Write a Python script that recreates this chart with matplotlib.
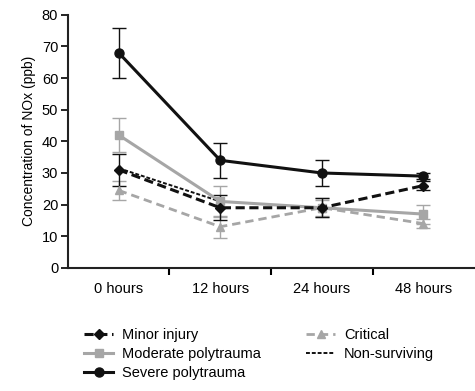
import numpy as np
import matplotlib.pyplot as plt
from matplotlib.lines import Line2D
from matplotlib.ticker import FixedLocator, NullFormatter

plt.rcParams['font.family'] = ['Liberation Sans', 'DejaVu Sans']

timepoints = ["0 hours", "12 hours", "24 hours", "48 hours"]

minor_injury = [31, 19, 19, 26]
minor_injury_err = [5, 4, 3, 1.5]

moderate_poly = [42, 21, 19, 17]
moderate_poly_err = [5.5, 5, 3, 3]

severe_poly = [68, 34, 30, 29]
severe_poly_err = [8, 5.5, 4, 1]

critical = [24.5, 13, 19, 14]
critical_err = [3, 3.5, 2.5, 1.5]

non_surviving = [31.5, 21, np.nan, np.nan]

x = np.arange(len(timepoints))

fig = plt.figure(figsize=(4.75, 3.91), dpi=100)
ax = fig.add_axes([0.143, 0.315, 0.855, 0.647])

gray = '#a6a6a6'
black = '#111111'

styles = {
    'Minor injury': dict(color=black, ls='--', marker='D', ms=5.5, lw=2.2, dashes=(3, 1.5)),
    'Moderate polytrauma': dict(color=gray, ls='-', marker='s', ms=5.5, lw=2.2, dashes=None),
    'Severe polytrauma': dict(color=black, ls='-', marker='o', ms=6.5, lw=2.2, dashes=None),
    'Critical': dict(color=gray, ls='--', marker='^', ms=6, lw=2.0, dashes=(3, 1.8)),
    'Non-surviving': dict(color=black, ls='--', marker=None, ms=0, lw=1.4, dashes=(2, 1)),
}

data = {
    'Minor injury': (minor_injury, minor_injury_err),
    'Moderate polytrauma': (moderate_poly, moderate_poly_err),
    'Severe polytrauma': (severe_poly, severe_poly_err),
    'Critical': (critical, critical_err),
    'Non-surviving': (non_surviving, None),
}

# draw lighter series first so the black lines sit on top
for name in ['Non-surviving', 'Critical', 'Moderate polytrauma', 'Minor injury', 'Severe polytrauma']:
    y, err = data[name]
    st = styles[name]
    if err is None:
        line, = ax.plot(x, y, color=st['color'], linestyle=st['ls'], linewidth=st['lw'], zorder=3)
    else:
        cont = ax.errorbar(x, y, yerr=err, color=st['color'], linestyle=st['ls'],
                           marker=st['marker'], markersize=st['ms'], linewidth=st['lw'],
                           capsize=5, elinewidth=1.0, capthick=1.0, zorder=3)
        line = cont.lines[0]
    if st['dashes'] is not None:
        line.set_dashes(st['dashes'])

handles = []
for name in ['Minor injury', 'Moderate polytrauma', 'Severe polytrauma', 'Critical', 'Non-surviving']:
    st = styles[name]
    h = Line2D([], [], color=st['color'], linestyle=st['ls'], marker=st['marker'],
               markersize=st['ms'], linewidth=st['lw'], label=name)
    if st['dashes'] is not None:
        h.set_dashes(st['dashes'])
    handles.append(h)

ax.set_xlim(-0.5, 3.5)
ax.set_ylim(0, 80)
ax.set_yticks(np.arange(0, 81, 10))
ax.set_xticks(x)
ax.set_xticklabels(timepoints)
ax.tick_params(axis='x', which='major', length=0, pad=10, labelsize=10.5)
ax.xaxis.set_minor_locator(FixedLocator([0.5, 1.5, 2.5]))
ax.xaxis.set_minor_formatter(NullFormatter())
ax.tick_params(axis='x', which='minor', length=5, width=1.5, direction='out')
ax.tick_params(axis='y', length=5, width=1.2, labelsize=10.5, pad=2)
ax.set_ylabel('Concentration of NOx (ppb)', fontsize=10, labelpad=4)

for s in ['top', 'right']:
    ax.spines[s].set_visible(False)
for s in ['left', 'bottom']:
    ax.spines[s].set_linewidth(1.5)
    ax.spines[s].set_color('#222222')

fig.legend(handles=handles, loc='upper left', bbox_to_anchor=(0.165, 0.175), ncol=2,
           frameon=False, fontsize=10.5, handlelength=2.0, handletextpad=0.6,
           columnspacing=3.1, labelspacing=0.32, borderaxespad=0)

fig.savefig('out.png', dpi=100)
